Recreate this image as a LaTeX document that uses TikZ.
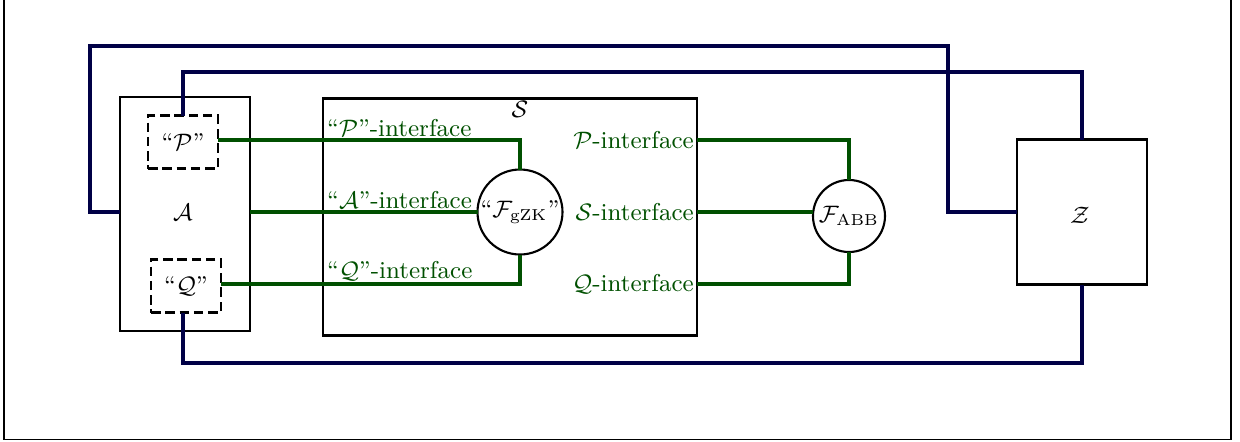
\documentclass[tikz,border=0pt]{standalone}
\usetikzlibrary{calc}
\definecolor{navy}{RGB}{0,0,70}
\definecolor{dgreen}{RGB}{0,80,0}
\begin{document}
\begin{tikzpicture}[x=0.378pt,y=-0.378pt,
  every node/.style={font=\fontsize{9.2pt}{11pt}\selectfont},
  box/.style={draw,line width=0.8pt,inner sep=0pt,outer sep=0pt,rectangle},
  dbox/.style={box,dash pattern=on 3.6pt off 1.8pt},
  circ/.style={draw,line width=0.8pt,circle,inner sep=0pt,outer sep=0pt},
  bline/.style={draw=navy,line width=1.6pt},
  gline/.style={draw=dgreen,line width=1.6pt},
  glabel/.style={text=dgreen,inner sep=1pt}]
\useasboundingbox (0,0) rectangle (1240,441);
\draw[line width=0.4pt] (4,0) -- (4,439.5) -- (1231,439.5) -- (1231,0);
% boxes
\node[box,minimum width=130*0.378pt,minimum height=234*0.378pt] (A) at (185,214) {};
\node (Alab) at (183,212) {$\mathcal{A}$};
\node[dbox,minimum width=70*0.378pt,minimum height=53*0.378pt] (P) at (183,142) {``$\mathcal{P}$''};
\node[dbox,minimum width=70*0.378pt,minimum height=53*0.378pt] (Q) at (186,286) {``$\mathcal{Q}$''};
\node[box,minimum width=374*0.378pt,minimum height=237*0.378pt] (S) at (510,217) {};
\node (Slab) at (520,109) {$\mathcal{S}$};
\node[circ,minimum size=85*0.378pt] (G) at (520,212) {``$\mathcal{F}_{\mathrm{gZK}}$''};
\node[circ,minimum size=72*0.378pt] (F) at (849,216) {$\mathcal{F}_{\mathrm{ABB}}$};
\node[box,minimum width=130*0.378pt,minimum height=145*0.378pt] (Z) at (1082,212) {};
\node (Zlab) at (1080,215) {$\mathcal{Z}$};
% coordinates
\coordinate (yP) at (0,140);
\coordinate (yA) at (0,212);
\coordinate (yQ) at (0,284);
\coordinate (b1) at (90,46);
\coordinate (b1r) at (948,46);
\coordinate (b2) at (0,72);
\coordinate (b3) at (0,363);
% labels
\node[glabel,anchor=south west] (lP) at (324,140) {``$\mathcal{P}$''-interface};
\node[glabel,anchor=south west] (lA) at (324,212) {``$\mathcal{A}$''-interface};
\node[glabel,anchor=south west] (lQ) at (324,284) {``$\mathcal{Q}$''-interface};
\node[glabel,anchor=east] (rP) at (697,140) {$\mathcal{P}$-interface};
\node[glabel,anchor=east] (rS) at (697,212) {$\mathcal{S}$-interface};
\node[glabel,anchor=east] (rQ) at (697,284) {$\mathcal{Q}$-interface};
% green connectors
\draw[gline] (P.east |- yP) -- (G.north |- yP) -- (G.north);
\draw[gline] (A.east |- yA) -- (G.west);
\draw[gline] (Q.east |- yQ) -- (G.south |- yQ) -- (G.south);
\draw[gline] (rP.east) -- (F.north |- yP) -- (F.north);
\draw[gline] (rS.east) -- (F.west |- yA);
\draw[gline] (rQ.east) -- (F.south |- yQ) -- (F.south);
% navy connectors
\draw[bline] (A.west |- yA) -- (b1 |- yA) -- (b1) -- (b1r) -- (b1r |- yA) -- (Z.west |- yA);
\draw[bline] (P.north) -- (P.north |- b2) -- (Z.north |- b2) -- (Z.north);
\draw[bline] (P.north |- Q.south) -- (P.north |- b3) -- (Z.south |- b3) -- (Z.south);
\end{tikzpicture}
\end{document}
